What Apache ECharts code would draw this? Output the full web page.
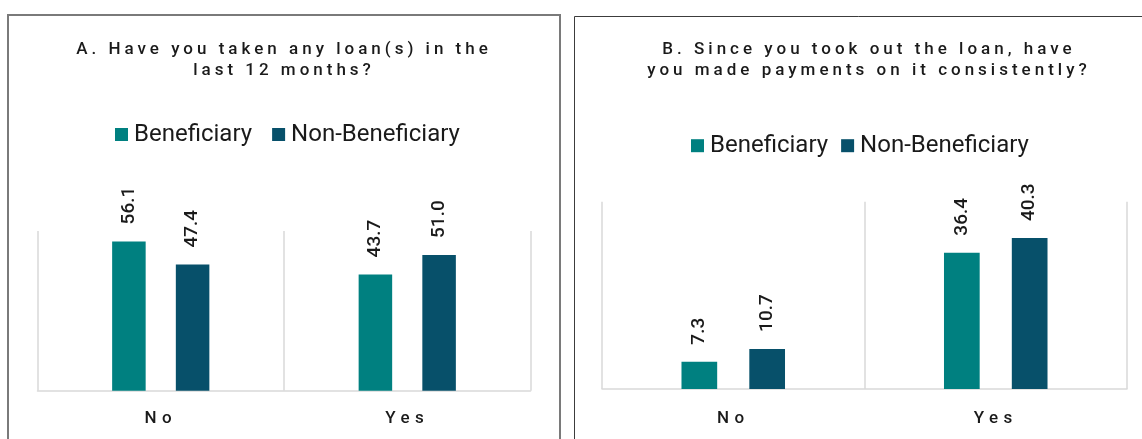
<!DOCTYPE html>
<html>
<head>
<meta charset="utf-8">
<title>Loans: beneficiaries vs non-beneficiaries</title>
<script src="https://cdn.jsdelivr.net/npm/echarts@6/dist/echarts.min.js"></script>
<style>
  html, body { margin: 0; padding: 0; overflow: hidden; background: #ffffff; }
  #chart { width: 1142px; height: 439px; }
</style>
</head>
<body>
<div id="chart"></div>
<script>
// ---- data ----
const seriesNames = ['Beneficiary', 'Non-Beneficiary'];
const categories = ['No', 'Yes'];
const titleA = 'A. Have you taken any loan(s) in the\nlast 12 months?';
const titleB = 'B. Since you took out the loan, have\nyou made payments on it consistently?';
const loanBeneficiary = [56.1, 43.7];
const loanNonBeneficiary = [47.4, 51.0];
const paymentBeneficiary = [7.3, 36.4];
const paymentNonBeneficiary = [10.7, 40.3];
const axisMaxA = 60;
const axisMaxB = 50;

// ---- styling ----
const FONT = 'Roboto, "Noto Sans", sans-serif';
const TEXT = '#1a1a1a';
const TEAL = '#008080';
const NAVY = '#07506a';
const GRIDLINE = '#d9d9d9';

// Tracked (letter-spaced) text: titles and category labels.
const TRACKING = new Map();
[titleA, titleB].forEach(t => t.split('\n').forEach(line => TRACKING.set(line, 4)));
categories.forEach(c => TRACKING.set(c, 5.5));

(function enableTracking() {
  const proto = CanvasRenderingContext2D.prototype;
  if (!('letterSpacing' in proto)) return;
  const rawFill = proto.fillText;
  proto.fillText = function (text, x, y, maxWidth) {
    const ls = TRACKING.get(String(text));
    if (!ls) {
      if (this.letterSpacing !== '0px') this.letterSpacing = '0px';
      return arguments.length > 3 ? rawFill.call(this, text, x, y, maxWidth) : rawFill.call(this, text, x, y);
    }
    this.save();
    const font = this.font;
    this.letterSpacing = ls + 'px';
    this.font = font;
    rawFill.call(this, text, x, y);
    this.restore();
    this.letterSpacing = '0px';
  };
})();

const chart = echarts.init(document.getElementById('chart'), null, { renderer: 'canvas' });

function barSeries(name, data, axisIndex, color) {
  return {
    type: 'bar',
    name: name,
    data: data,
    xAxisIndex: axisIndex,
    yAxisIndex: axisIndex,
    barWidth: '13.6%',
    barGap: '90%',
    itemStyle: { color: color },
    label: {
      show: true,
      position: 'top',
      rotate: 90,
      align: 'left',
      verticalAlign: 'middle',
      distance: 17,
      fontFamily: FONT,
      fontSize: 19,
      fontWeight: 500,
      color: TEXT,
      formatter: p => p.value.toFixed(1)
    },
    emphasis: { disabled: true }
  };
}

function categoryAxis(gridIndex, margin) {
  return {
    type: 'category',
    gridIndex: gridIndex,
    data: categories,
    axisLine: { lineStyle: { color: GRIDLINE, width: 1.5 } },
    axisTick: { show: false },
    axisLabel: { fontFamily: FONT, fontSize: 17, fontWeight: 500, color: TEXT, margin: margin },
    splitLine: { show: true, lineStyle: { color: GRIDLINE, width: 1.5 } }
  };
}

function valueAxis(gridIndex, max) {
  return {
    type: 'value',
    gridIndex: gridIndex,
    min: 0,
    max: max,
    show: false,
    splitLine: { show: false }
  };
}

function titleBlock(text, centerX) {
  return {
    text: text,
    left: centerX,
    top: 39,
    textAlign: 'center',
    padding: 0,
    textStyle: {
      fontFamily: FONT,
      fontSize: 17,
      fontWeight: 500,
      color: TEXT,
      lineHeight: 21
    }
  };
}

function legendBlock(left, top, gap) {
  return {
    data: seriesNames,
    left: left,
    top: top,
    padding: 0,
    icon: 'rect',
    itemWidth: 13,
    itemHeight: 13,
    itemGap: gap,
    selectedMode: false,
    textStyle: { fontFamily: FONT, fontSize: 24, color: TEXT, padding: [0, 0, 0, 1] }
  };
}

chart.setOption({
  animation: false,
  color: [TEAL, NAVY],
  title: [titleBlock(titleA, 284), titleBlock(titleB, 869)],
  legend: [legendBlock(115, 122.5, 20), legendBlock(691, 133.7, 13)],
  grid: [
    { left: 37.5, top: 231, width: 493, height: 159.7 },
    { left: 602, top: 201.7, width: 525, height: 187.3 }
  ],
  xAxis: [categoryAxis(0, 20), categoryAxis(1, 21)],
  yAxis: [valueAxis(0, axisMaxA), valueAxis(1, axisMaxB)],
  series: [
    barSeries(seriesNames[0], loanBeneficiary, 0, TEAL),
    barSeries(seriesNames[1], loanNonBeneficiary, 0, NAVY),
    barSeries(seriesNames[0], paymentBeneficiary, 1, TEAL),
    barSeries(seriesNames[1], paymentNonBeneficiary, 1, NAVY)
  ],
  graphic: [
    {
      type: 'rect',
      silent: true,
      shape: { x: 8, y: 15, width: 552, height: 440 },
      style: { fill: 'none', stroke: '#7a7a7a', lineWidth: 2 }
    },
    {
      type: 'rect',
      silent: true,
      shape: { x: 574.5, y: 16.5, width: 600, height: 440 },
      style: { fill: 'none', stroke: '#3c3c3c', lineWidth: 1 }
    }
  ]
});
</script>
</body>
</html>
